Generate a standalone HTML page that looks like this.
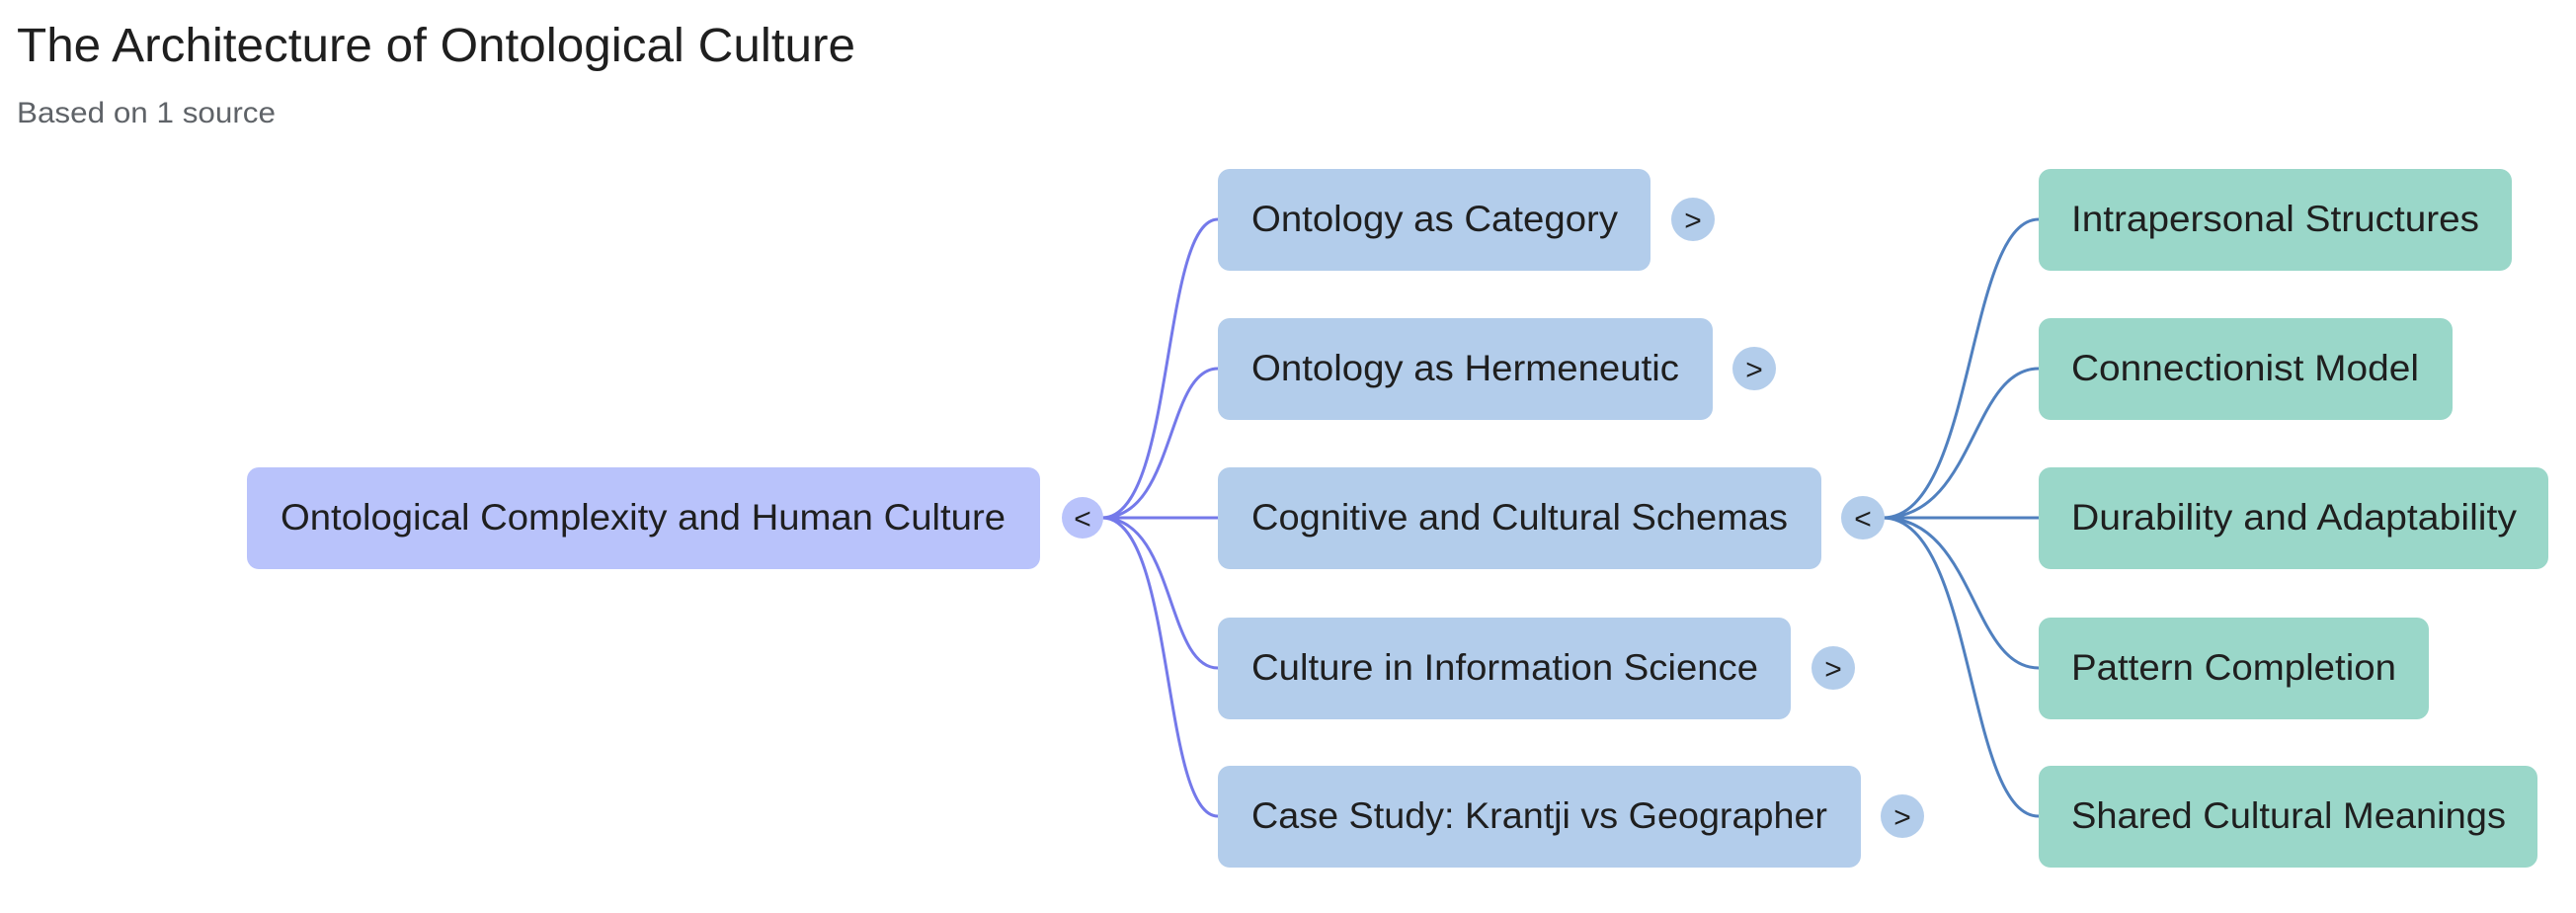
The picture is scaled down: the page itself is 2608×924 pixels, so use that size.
<!DOCTYPE html>
<html><head><meta charset="utf-8"><style>
html,body{margin:0;padding:0;background:#fff;}
body{width:2608px;height:924px;overflow:hidden;position:relative;font-family:"Liberation Sans",sans-serif;}
svg{position:absolute;left:0;top:0;}
</style></head><body>
<svg width="2608" height="924" xmlns="http://www.w3.org/2000/svg" font-family="Liberation Sans, sans-serif">
<text x="17" y="62" font-size="48" fill="#1f1f1f" textLength="849" lengthAdjust="spacingAndGlyphs">The Architecture of Ontological Culture</text>
<text x="17" y="124" font-size="30" fill="#5f6368" textLength="262" lengthAdjust="spacingAndGlyphs">Based on 1 source</text>
<g fill="none" stroke="#7479ea" stroke-width="3">
<path d="M1116,524 C1190,524 1175,222 1233,222"/>
<path d="M1116,524 C1190,524 1180,373 1233,373"/>
<path d="M1116,524 L1233,524"/>
<path d="M1116,524 C1190,524 1180,676 1233,676"/>
<path d="M1116,524 C1190,524 1175,826 1233,826"/>
</g>
<g fill="none" stroke="#5080bf" stroke-width="3">
<path d="M1906,524 C2000,524 1990,222 2064,222"/>
<path d="M1906,524 C2000,524 1995,373 2064,373"/>
<path d="M1906,524 L2064,524"/>
<path d="M1906,524 C2000,524 1995,676 2064,676"/>
<path d="M1906,524 C2000,524 1990,826 2064,826"/>
</g>
<rect x="250" y="473" width="803" height="103" rx="12" fill="#b9c3fb"/>
<text x="284" y="536" font-size="37" fill="#1f1f1f" textLength="734" lengthAdjust="spacingAndGlyphs">Ontological Complexity and Human Culture</text>
<circle cx="1096" cy="524" r="21" fill="#b9c3fb"/>
<text x="1096" y="535" font-size="30" text-anchor="middle" fill="#1f1f1f">&lt;</text>
<g fill="#b3cdeb">
<rect x="1233" y="171" width="438" height="103" rx="12"/>
<rect x="1233" y="322" width="501" height="103" rx="12"/>
<rect x="1233" y="473" width="611" height="103" rx="12"/>
<rect x="1233" y="625" width="580" height="103" rx="12"/>
<rect x="1233" y="775" width="651" height="103" rx="12"/>
<circle cx="1714" cy="222" r="22"/>
<circle cx="1776" cy="373" r="22"/>
<circle cx="1886" cy="524" r="22"/>
<circle cx="1856" cy="676" r="22"/>
<circle cx="1926" cy="826" r="22"/>
</g>
<g font-size="37" fill="#1f1f1f" lengthAdjust="spacingAndGlyphs">
<text x="1267" y="234" textLength="371" lengthAdjust="spacingAndGlyphs">Ontology as Category</text>
<text x="1267" y="385" textLength="433" lengthAdjust="spacingAndGlyphs">Ontology as Hermeneutic</text>
<text x="1267" y="536" textLength="543" lengthAdjust="spacingAndGlyphs">Cognitive and Cultural Schemas</text>
<text x="1267" y="688" textLength="513" lengthAdjust="spacingAndGlyphs">Culture in Information Science</text>
<text x="1267" y="838" textLength="583" lengthAdjust="spacingAndGlyphs">Case Study: Krantji vs Geographer</text>
</g>
<g font-size="30" fill="#1f1f1f" text-anchor="middle">
<text x="1714" y="233">&gt;</text>
<text x="1776" y="384">&gt;</text>
<text x="1886" y="535">&lt;</text>
<text x="1856" y="687">&gt;</text>
<text x="1926" y="837">&gt;</text>
</g>
<g fill="#9ad7c9">
<rect x="2064" y="171" width="479" height="103" rx="12"/>
<rect x="2064" y="322" width="419" height="103" rx="12"/>
<rect x="2064" y="473" width="516" height="103" rx="12"/>
<rect x="2064" y="625" width="395" height="103" rx="12"/>
<rect x="2064" y="775" width="505" height="103" rx="12"/>
</g>
<g font-size="37" fill="#1f1f1f">
<text x="2097" y="234" textLength="413" lengthAdjust="spacingAndGlyphs">Intrapersonal Structures</text>
<text x="2097" y="385" textLength="352" lengthAdjust="spacingAndGlyphs">Connectionist Model</text>
<text x="2097" y="536" textLength="451" lengthAdjust="spacingAndGlyphs">Durability and Adaptability</text>
<text x="2097" y="688" textLength="329" lengthAdjust="spacingAndGlyphs">Pattern Completion</text>
<text x="2097" y="838" textLength="440" lengthAdjust="spacingAndGlyphs">Shared Cultural Meanings</text>
</g>
</svg>
</body></html>
